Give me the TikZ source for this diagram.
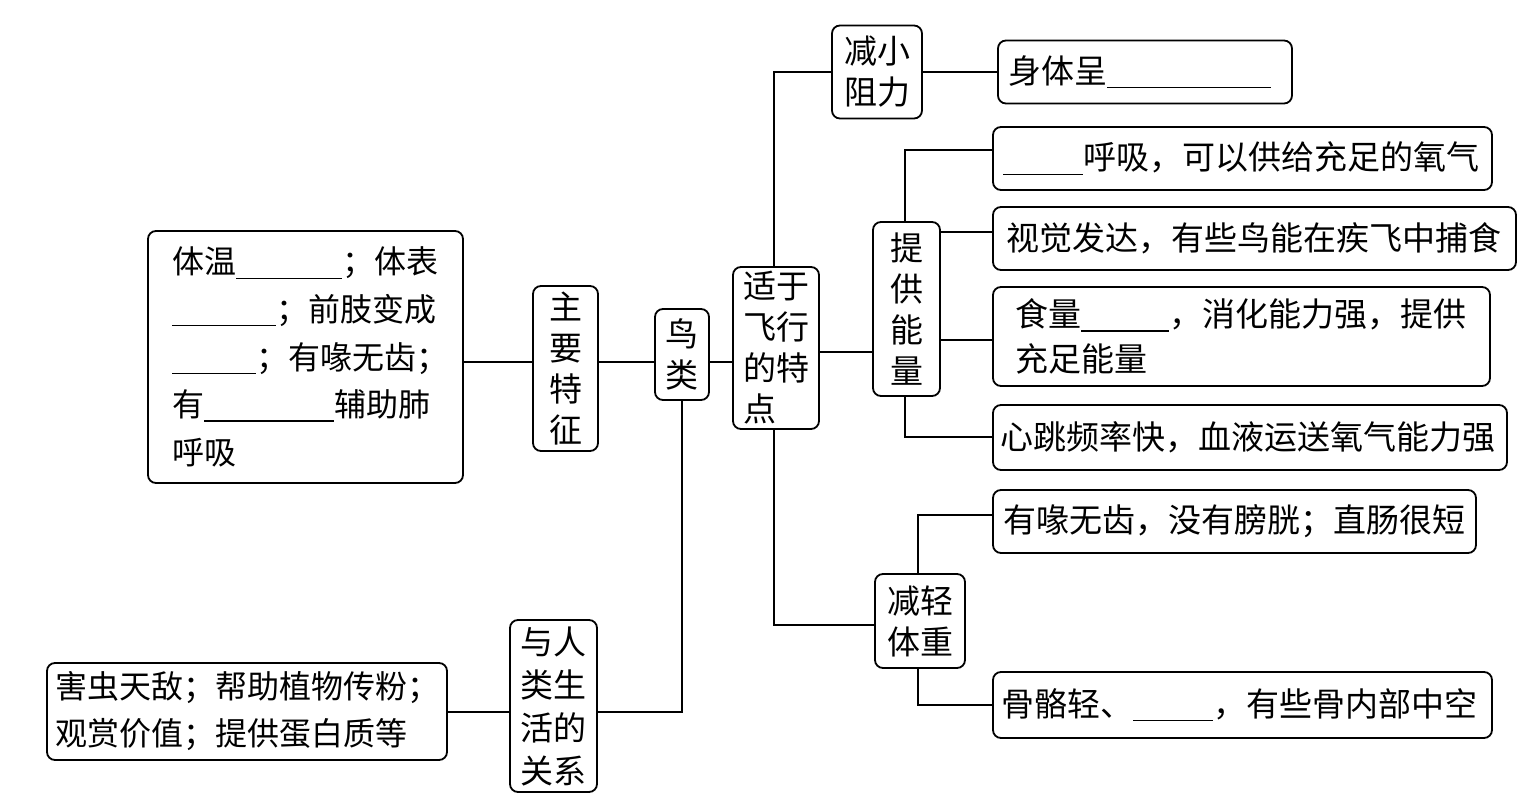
\documentclass[tikz,border=0pt]{standalone}
\usepackage{fontspec}
\newfontfamily\cjk{Noto Sans CJK SC}
\newcommand{\myblank}[1]{\rule[-0.15em]{#1}{0.6pt}}
\begin{document}
\begin{tikzpicture}[x=0.5pt,y=-0.5pt,
  box/.style={draw, line width=0.9pt, rounded corners=4pt, inner sep=0pt,
    font=\cjk\fontsize{16.5pt}{20.5pt}\selectfont},
  vbox/.style={box, align=center},
  conn/.style={line width=0.9pt}]
\useasboundingbox (0,0) rectangle (1532,806);
\fill[white] (0,0) rectangle (1532,806);

% left feature box
\node[box, font=\cjk\fontsize{16pt}{23.8pt}\selectfont, text width=133.5pt, inner xsep=12pt,
  minimum height=126pt, align=left] (A) at (305.5,357)
  {体温\myblank{53pt}；体表\\\myblank{52pt}；前肢变成\\\myblank{42pt}；有喙无齿；\\有\myblank{65pt}辅助肺\\呼吸};
\node[vbox, minimum width=32.5pt, minimum height=82.5pt] (zy) at (565.5,368.5) {主\\要\\特\\征};
\node[vbox, minimum width=27pt, minimum height=45.5pt] (nl) at (682,354.5) {鸟\\类};
\node[box, align=left, minimum width=41pt, minimum height=81pt, inner xsep=5pt] (sy) at (776,348) {适于\\飞行\\的特\\点};
\node[vbox, minimum width=45pt, minimum height=46.5pt] (jx) at (877,72) {减小\\阻力};
\node[vbox, minimum width=33.5pt, minimum height=87pt] (tg) at (906.5,309) {提\\供\\能\\量};
\node[vbox, minimum width=45pt, minimum height=47pt] (jq) at (920,621) {减轻\\体重};
\node[vbox, minimum width=43.5pt, minimum height=86pt, font=\cjk\fontsize{16.5pt}{21.5pt}\selectfont] (yr) at (553.5,706) {与人\\类生\\活的\\关系};

% right boxes
\node[box, align=left, text width=137pt, inner xsep=5pt, minimum height=31.5pt] (r1) at (1145,72) {身体呈\myblank{82pt}};
\node[box, align=left, text width=239.5pt, inner xsep=5pt, minimum height=31.5pt] (r2) at (1242.5,158.5) {\myblank{40pt}呼吸，可以供给充足的氧气};
\node[box, align=left, text width=248.5pt, inner xsep=6.5pt, minimum height=31.5pt] (r3) at (1254.5,238.5) {视觉发达，有些鸟能在疾飞中捕食};
\node[box, align=left, text width=226.5pt, inner xsep=11pt, minimum height=49.5pt,
  font=\cjk\fontsize{16.5pt}{22.5pt}\selectfont] (r4) at (1241.5,336.5) {食量\myblank{44pt}，消化能力强，提供\\充足能量};
\node[box, align=left, text width=250pt, inner xsep=3.5pt, minimum height=32.5pt] (r5) at (1250,437.5) {心跳频率快，血液运送氧气能力强};
\node[box, align=left, text width=231.5pt, inner xsep=5pt, minimum height=31.5pt] (r6) at (1234.5,521.5) {有喙无齿，没有膀胱；直肠很短};
\node[box, align=left, text width=241.5pt, inner xsep=4pt, minimum height=33pt] (r7) at (1242.5,705) {骨骼轻、\myblank{40pt}，有些骨内部中空};
\node[box, align=left, text width=192pt, inner xsep=4pt, minimum height=48.5pt,
  font=\cjk\fontsize{16pt}{23.5pt}\selectfont] (L) at (247,711.5) {害虫天敌；帮助植物传粉；\\观赏价值；提供蛋白质等};

% connectors
\draw[conn] (A.east |- 0,362) -- (zy.west |- 0,362);
\draw[conn] (zy.east |- 0,362) -- (nl.west |- 0,362);
\draw[conn] (nl.east |- 0,362) -- (sy.west |- 0,362);
\draw[conn] (sy.east |- 0,352) -- (tg.west |- 0,352);
\draw[conn] (sy.north -| 774,0) |- (jx.west);
\draw[conn] (jx.east) -- (r1.west);
\draw[conn] (sy.south -| 774,0) |- (jq.west |- 0,625);
\draw[conn] (tg.north -| 905,0) |- (r2.west |- 0,150);
\draw[conn] (tg.east |- 0,232) -- (r3.west |- 0,232);
\draw[conn] (tg.east |- 0,340) -- (r4.west |- 0,340);
\draw[conn] (tg.south -| 905,0) |- (r5.west |- 0,437);
\draw[conn] (jq.north -| 918,0) |- (r6.west |- 0,515);
\draw[conn] (jq.south -| 918,0) |- (r7.west |- 0,705);
\draw[conn] (L.east |- 0,712) -- (yr.west |- 0,712);
\draw[conn] (yr.east |- 0,712) -| (nl.south -| 682,0);
\end{tikzpicture}
\end{document}
